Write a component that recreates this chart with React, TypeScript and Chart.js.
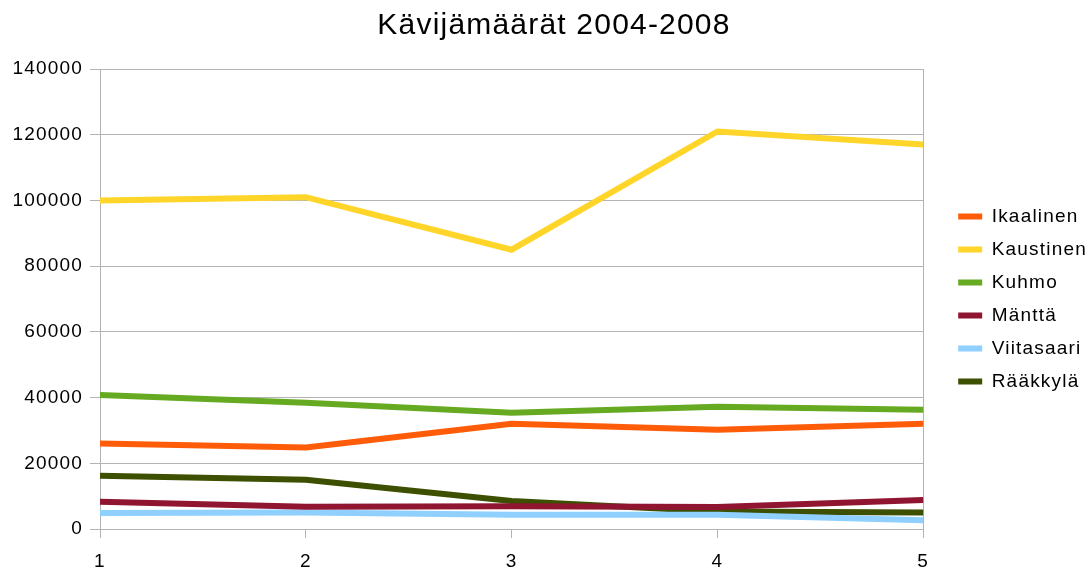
import React, { useEffect, useRef } from "react";
import { Chart, registerables } from "chart.js";

Chart.register(...registerables);

const categories = ["1", "2", "3", "4", "5"];
const ikaalinen = [26000, 24800, 32000, 30200, 32000];
const kaustinen = [100000, 101000, 85000, 121000, 117000];
const kuhmo = [40800, 38400, 35400, 37200, 36300];
const mantta = [8300, 6800, 6900, 6700, 8800];
const viitasaari = [4900, 5000, 4300, 4300, 2700];
const raakkyla = [16200, 15000, 8500, 5300, 5000];

const seriesNames = ["Ikaalinen", "Kaustinen", "Kuhmo", "Mänttä", "Viitasaari", "Rääkkylä"];
const seriesColors = ["#ff5c0a", "#ffd52a", "#66aa22", "#8f1530", "#8fd0ff", "#3d4f00"];
const yTicks = [0, 20000, 40000, 60000, 80000, 100000, 120000, 140000];

const FONT = "'Liberation Sans', Arial, sans-serif";
const LEGEND_EXTRA = 12;
const LEGEND_SHIFT_X = 21;
const LEGEND_SHIFT_Y = 8;
const TITLE_SHIFT_X = 10;

const spacingPlugin = {
  id: "spacing",
  beforeInit(chart: any) {
    chart.ctx.letterSpacing = "1.2px";
  },
  afterInit(chart: any) {
    const legend = chart.legend;
    if (legend && !legend.__patched) {
      const origFit = legend.fit.bind(legend);
      legend.fit = () => {
        chart.ctx.letterSpacing = "1.2px";
        origFit();
        legend.width += LEGEND_EXTRA;
      };
      legend.__patched = true;
    }
  },
  beforeUpdate(chart: any) {
    chart.ctx.letterSpacing = "1.2px";
  },
  beforeLayout(chart: any) {
    chart.ctx.letterSpacing = "1.2px";
  },
  afterLayout(chart: any) {
    if (chart.legend) {
      chart.legend.left += LEGEND_SHIFT_X;
      chart.legend.right += LEGEND_SHIFT_X;
      chart.legend.top += LEGEND_SHIFT_Y;
      chart.legend.bottom += LEGEND_SHIFT_Y;
    }
    if (chart.titleBlock) {
      chart.titleBlock.left += TITLE_SHIFT_X;
      chart.titleBlock.right += TITLE_SHIFT_X;
    }
  },
  beforeDraw(chart: any) {
    chart.ctx.letterSpacing = "1.2px";
  },
};

export default function App() {
  const ref = useRef<HTMLCanvasElement | null>(null);
  useEffect(() => {
    document.body.style.margin = "0";
    const ctx = ref.current;
    if (!ctx) return;
    const allData = [ikaalinen, kaustinen, kuhmo, mantta, viitasaari, raakkyla];
    const chart = new Chart(ctx, {
      type: "line",
      data: {
        labels: categories,
        datasets: allData.map((d, i) => ({
          label: seriesNames[i],
          data: d,
          borderColor: seriesColors[i],
          backgroundColor: seriesColors[i],
          borderWidth: 6,
          pointRadius: 0,
          tension: 0,
          fill: false,
        })),
      },
      plugins: [spacingPlugin],
      options: {
        animation: false,
        responsive: false,
        devicePixelRatio: 1,
        layout: { padding: { left: 0, right: 4, top: 8, bottom: 0 } },
        font: { family: FONT },
        plugins: {
          title: {
            display: true,
            text: "Kävijämäärät 2004-2008",
            color: "#000",
            font: { family: FONT, size: 30, weight: "normal" },
            padding: { top: 0, bottom: 25 },
          },
          legend: {
            position: "right",
            align: "center",
            labels: {
              color: "#000",
              font: { family: FONT, size: 19 },
              boxWidth: 24,
              boxHeight: 6,
              padding: 14,
              generateLabels: (c: any) => {
                const items = Chart.defaults.plugins.legend.labels.generateLabels(c);
                return items.map((it: any) => ({ ...it, lineWidth: 0 }));
              },
            },
          },
          tooltip: { enabled: false },
        },
        scales: {
          x: {
            offset: false,
            afterFit: (a: any) => {
              a.height = 45;
            },
            grid: {
              color: (c: any) => (c.index === categories.length - 1 ? "#b3b3b3" : "rgba(0,0,0,0)"),
              tickColor: "#b3b3b3",
              tickLength: 9,
              lineWidth: 1,
            },
            border: { color: "#b3b3b3" },
            ticks: {
              color: "#000",
              font: { family: FONT, size: 19 },
              padding: 12,
              maxRotation: 0,
            },
          },
          y: {
            min: yTicks[0],
            max: yTicks[yTicks.length - 1],
            afterFit: (a: any) => {
              a.width = 100;
            },
            afterBuildTicks: (axis: any) => {
              axis.ticks = yTicks.map((v) => ({ value: v }));
            },
            grid: { color: "#b3b3b3", tickColor: "#b3b3b3", tickLength: 10 },
            border: { color: "#b3b3b3" },
            ticks: {
              color: "#000",
              font: { family: FONT, size: 19 },
              padding: 7,
              callback: (v: any) => String(v),
            },
          },
        },
      } as any,
    });
    return () => chart.destroy();
  }, []);
  return (
    <div style={{ width: 1092, height: 574, background: "#fff" }}>
      <canvas ref={ref} width={1092} height={574} style={{ display: "block" }} />
    </div>
  );
}
